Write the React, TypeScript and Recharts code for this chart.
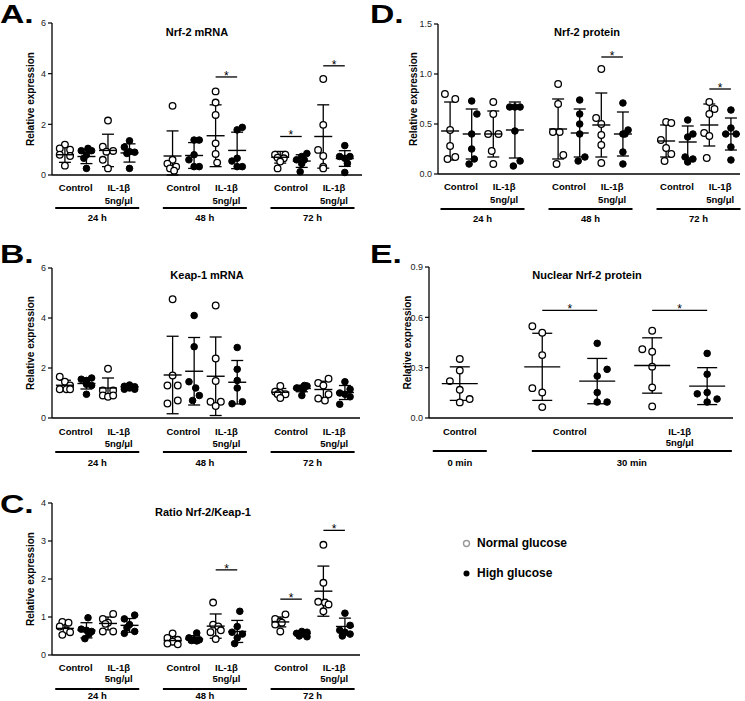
import { ScatterChart, Scatter, XAxis, YAxis, ErrorBar, ReferenceLine } from 'recharts'

const FONT = "'Liberation Sans', Arial, Helvetica, sans-serif"

// [value, horizontal jitter step]
type Pt = [number, number]

// ── shared categories for the time-course panels ───────────────────────────
const TC_NG_X = [1, 3, 6, 8, 11, 13]
const TC_HG_X = [2, 4, 7, 9, 12, 14]
const TC_CAT_X = [1.5, 3.5, 6.5, 8.5, 11.5, 13.5]
const TC_CAT_LABELS = ['Control', 'IL-1β|5ng/μl', 'Control', 'IL-1β|5ng/μl', 'Control', 'IL-1β|5ng/μl']
const TC_SPAN_X = [2.5, 7.5, 12.5]
const TC_SPAN_LABELS = ['24 h', '48 h', '72 h']

// ── A. Nrf-2 mRNA ───────────────────────────────────────────────────────────
const A_NG: Pt[][] = [
  [[1.2, 0], [1.05, -1], [1.0, 1], [0.8, -1], [0.75, 1], [0.37, 0]],
  [[2.15, 0], [1.12, -1], [0.95, 1], [0.92, -0.3], [0.6, -1], [0.26, 0]],
  [[2.73, 0], [0.6, 0], [0.45, -1], [0.33, 0.7], [0.26, -0.5], [0.17, 0.3]],
  [[3.3, 0], [2.86, 0], [2.37, 0], [1.25, 0], [0.83, 0], [0.49, 0.3]],
  [[0.8, -1], [0.8, 1], [0.68, -0.5], [0.66, 0.7], [0.53, 0], [0.26, -0.5]],
  [[3.79, 0], [1.98, 0], [0.99, -1], [0.75, 0], [0.33, 0], [0.26, 0]],
]
const A_HG: Pt[][] = [
  [[1.05, 0.3], [0.96, -1], [0.96, 1], [0.8, 0], [0.66, -0.5], [0.26, 0]],
  [[1.35, 0], [1.1, -1], [0.92, 0], [0.9, 1], [0.85, -0.5], [0.26, 0]],
  [[1.38, 0], [1.38, 1], [0.8, 0], [0.6, -1], [0.33, 0], [0.33, 1]],
  [[1.88, 1], [1.78, 0], [0.66, 0], [0.55, -1], [0.33, 0], [0.33, 1]],
  [[0.85, 1], [0.73, 0], [0.6, -1], [0.6, 0.5], [0.45, 0], [0.13, -0.3]],
  [[1.16, 0], [0.73, -1], [0.73, 1], [0.66, 0], [0.46, 0.5], [0.1, 0]],
]
const A_NG_MEAN = [0.8, 0.97, 0.75, 1.55, 0.7, 1.52]
const A_NG_SD = [0.3, 0.64, 0.99, 1.22, 0.23, 1.25]
const A_HG_MEAN = [0.73, 0.87, 0.77, 0.97, 0.55, 0.65]
const A_HG_SD = [0.28, 0.36, 0.51, 0.72, 0.25, 0.31]
const A_SIG = [[8, 9, 3.87], [11, 12, 1.52], [13, 14, 4.31]]
const A_Y_TICKS = [0, 2, 4, 6]

// ── B. Keap-1 mRNA ──────────────────────────────────────────────────────────
const B_NG: Pt[][] = [
  [[1.65, -1], [1.45, 0], [1.3, 1], [1.15, -1], [1.15, 0.3], [1.15, 1]],
  [[1.97, 0], [1.1, -1], [1.1, 1], [0.9, -1], [0.85, 0], [0.9, 1]],
  [[4.75, 0], [1.7, 0], [1.3, -1], [1.3, 1], [0.7, 1], [0.58, -1]],
  [[4.5, 0], [2.38, 0], [1.48, 0], [0.65, -1], [0.65, 1], [0.48, 0]],
  [[1.28, 0], [1.05, -1], [1.0, 0], [0.95, 1], [0.95, -0.5], [0.8, 0]],
  [[1.57, 1], [1.4, -1], [1.3, 0], [0.95, 1], [0.78, -1], [0.7, 0.3]],
]
const B_HG: Pt[][] = [
  [[1.6, 1], [1.55, -1], [1.5, 0], [1.35, 0], [1.3, 1], [0.95, 0]],
  [[1.32, 0], [1.27, -1], [1.25, 1], [1.2, 0], [1.15, -1], [1.15, 1]],
  [[4.1, 0], [2.85, 0], [1.45, -1], [1.2, 0.3], [0.9, 1], [0.7, -0.3]],
  [[2.82, 0], [1.95, 0], [1.5, 0], [1.2, 0], [0.65, 1], [0.57, -1]],
  [[1.3, 0.5], [1.28, 1], [1.2, -1], [1.2, 0], [1.15, 0.3], [0.9, 0]],
  [[1.45, 0], [1.15, 1], [1.0, -1], [0.95, 0], [0.85, 1], [0.55, -1]],
]
const B_NG_MEAN = [1.31, 1.2, 1.72, 1.67, 1.03, 1.14]
const B_NG_SD = [0.2, 0.4, 1.55, 1.57, 0.15, 0.33]
const B_HG_MEAN = [1.38, 1.24, 1.87, 1.43, 1.18, 1.02]
const B_HG_SD = [0.22, 0.08, 1.35, 0.87, 0.13, 0.28]
const B_SIG: number[][] = []
const B_Y_TICKS = [0, 2, 4, 6]

// ── C. Ratio Nrf-2/Keap-1 ───────────────────────────────────────────────────
const C_NG: Pt[][] = [
  [[0.87, -0.5], [0.85, 0.7], [0.75, -1], [0.65, 0.3], [0.6, 1], [0.53, -0.5]],
  [[1.08, 1], [0.95, -1], [0.85, 0], [0.82, -0.5], [0.62, -1], [0.62, 1]],
  [[0.57, 0], [0.45, -1], [0.4, 1], [0.35, 0], [0.3, -1], [0.28, 1]],
  [[1.38, -0.5], [0.8, -0.5], [0.75, 0.5], [0.65, 1], [0.6, -1], [0.42, 0]],
  [[1.07, 1], [0.95, -1], [0.88, 0], [0.85, 0.3], [0.8, -1], [0.62, 0]],
  [[2.9, 0], [1.9, 0], [1.4, -1], [1.38, 0.3], [1.33, 1], [1.15, 0]],
]
const C_HG: Pt[][] = [
  [[0.98, 0.3], [0.68, -1], [0.65, 0], [0.62, 1], [0.55, 0.5], [0.43, -0.3]],
  [[1.05, 1], [0.95, -1], [0.8, 0], [0.72, -0.5], [0.62, 1], [0.57, -1]],
  [[0.58, 0.5], [0.45, -1], [0.4, 0], [0.4, 1], [0.38, -0.5], [0.37, 0.5]],
  [[1.15, 0.5], [0.75, 0], [0.6, -1], [0.55, 1], [0.45, 0], [0.3, -0.5]],
  [[0.62, 0], [0.6, 1], [0.57, -1], [0.55, 0.5], [0.5, -0.5], [0.48, 1]],
  [[1.1, 0], [0.78, 1], [0.65, -1], [0.6, 0], [0.55, 1], [0.5, -0.5]],
]
const C_NG_MEAN = [0.7, 0.83, 0.38, 0.76, 0.87, 1.68]
const C_NG_SD = [0.13, 0.17, 0.1, 0.32, 0.13, 0.66]
const C_HG_MEAN = [0.65, 0.78, 0.42, 0.62, 0.56, 0.75]
const C_HG_SD = [0.2, 0.18, 0.09, 0.29, 0.05, 0.22]
const C_SIG = [[8, 9, 2.24], [11, 12, 1.47], [13, 14, 3.28]]
const C_Y_TICKS = [0, 1, 2, 3, 4]

// ── D. Nrf-2 protein ────────────────────────────────────────────────────────
const D_NG: Pt[][] = [
  [[0.8, -1], [0.75, 1], [0.44, 0], [0.28, 0], [0.17, 1], [0.15, -0.5]],
  [[0.72, 0], [0.6, 0], [0.4, -1], [0.4, 1], [0.23, -0.3], [0.1, 0]],
  [[0.9, 0], [0.7, 0], [0.42, -1], [0.42, 0.3], [0.19, 1], [0.1, -0.3]],
  [[1.05, 0], [0.56, -1], [0.5, 0], [0.39, 0], [0.29, 0], [0.11, 0]],
  [[0.52, 0], [0.51, 1], [0.34, -1], [0.26, 0], [0.2, 1], [0.13, -0.3]],
  [[0.72, 0], [0.65, 1], [0.6, 0], [0.41, -1], [0.38, 0], [0.16, -0.5]],
]
const D_HG: Pt[][] = [
  [[0.73, 0], [0.6, 1], [0.4, 0], [0.25, 0], [0.15, 0.5], [0.1, -0.5]],
  [[0.67, -1], [0.67, 0], [0.67, 1], [0.43, 0], [0.13, 1], [0.08, -0.3]],
  [[0.74, 0], [0.6, 0], [0.5, 0], [0.4, 0], [0.17, 1], [0.13, -0.3]],
  [[0.71, 0], [0.44, 1], [0.4, 0], [0.4, 0.4], [0.22, 0], [0.1, 0]],
  [[0.54, 0], [0.4, 1], [0.37, 0], [0.17, -0.5], [0.15, 1], [0.12, 0]],
  [[0.64, 0], [0.46, 0], [0.4, -1], [0.4, 1], [0.27, 0], [0.14, 0]],
]
const D_NG_MEAN = [0.43, 0.4, 0.45, 0.49, 0.33, 0.49]
const D_NG_SD = [0.29, 0.23, 0.3, 0.32, 0.16, 0.21]
const D_HG_MEAN = [0.4, 0.44, 0.41, 0.4, 0.32, 0.4]
const D_HG_SD = [0.25, 0.28, 0.24, 0.22, 0.16, 0.16]
const D_SIG = [[8, 9, 1.17], [13, 14, 0.85]]
const D_Y_TICKS = [0, 0.5, 1.0, 1.5]

// ── E. Nuclear Nrf-2 protein ────────────────────────────────────────────────
const E_NG_X = [1, 2.5, 4.5]
const E_HG_X = [3.5, 5.5]
const E_CAT_X = [1, 3, 5]
const E_CAT_LABELS = ['Control', 'Control', 'IL-1β|5ng/μl']
const E_SPAN_X = [1, 4.13]
const E_SPAN_LABELS = ['0 min', '30 min']
const E_NG: Pt[][] = [
  [[0.352, 0], [0.283, 0], [0.22, -1], [0.168, 0], [0.113, 1], [0.093, 0]],
  [[0.547, -1], [0.508, 0], [0.375, 0], [0.178, -1], [0.152, 0], [0.065, 0]],
  [[0.52, 0], [0.41, -1], [0.395, 0], [0.306, 0], [0.182, 0], [0.069, 0]],
]
const E_HG: Pt[][] = [
  [[0.445, 0], [0.29, 1], [0.25, 0], [0.152, 0], [0.095, 0], [0.095, 1]],
  [[0.385, 0], [0.261, 0], [0.152, 0], [0.144, -1], [0.113, 1], [0.095, 0]],
]
const E_NG_MEAN = [0.205, 0.305, 0.313]
const E_NG_SD = [0.1, 0.2, 0.165]
const E_HG_MEAN = [0.22, 0.19]
const E_HG_SD = [0.135, 0.11]
const E_SIG = [[2.5, 3.5, 0.642], [4.5, 5.5, 0.642]]
const E_Y_TICKS = [0, 0.3, 0.6, 0.9]

// ── Panel ───────────────────────────────────────────────────────────────────
interface PanelProps {
  letter: string
  title: string
  ngX: number[]; hgX: number[]
  ng: Pt[][]; hg: Pt[][]
  ngMean: number[]; ngSd: number[]; hgMean: number[]; hgSd: number[]
  sig: number[][]
  yTicks: number[]
  catX: number[]; catLabels: string[]
  spanX: number[]; spanLabels: string[]
  // layout
  left: number; top: number; width: number; height: number
  mLeft: number; mRight: number; plotH: number
  xDomain: [number, number]
  jit: number; meanHalf: number; capW: number; spanHalf: number[]
  decimals: number
  letterTop: number
  titleX: number; titleY: number
  labelOffset: number
  dy: { l1: number; l2: number; under: number; time: number }
}

const OpenDot = (p: any) => (
  <circle cx={p.cx} cy={p.cy} r={3.3} fill="#fff" stroke="#000" strokeWidth={1.3} />
)
const FilledDot = (p: any) => (
  <circle cx={p.cx} cy={p.cy} r={3.3} fill="#000" stroke="#000" strokeWidth={1} />
)

// significance asterisk, centred over the bracket
const Star = (p: any) => {
  const vb = p.viewBox || {}
  return (
    <text
      x={vb.x + (vb.width || 0) / 2} y={vb.y + 3}
      textAnchor="middle" fill="#000" fontFamily={FONT} fontSize={12}
    >
      *
    </text>
  )
}

function Panel(props: PanelProps) {
  const {
    ngX, hgX, ng, hg, ngMean, ngSd, hgMean, hgSd, jit, meanHalf, dy,
  } = props

  const ngPts = ng.flatMap((g, i) => g.map(([y, d]) => ({ x: ngX[i] + d * jit, y })))
  const hgPts = hg.flatMap((g, i) => g.map(([y, d]) => ({ x: hgX[i] + d * jit, y })))
  const means = [
    ...ngMean.map((m, i) => ({ x: ngX[i], y: m, err: [Math.min(ngSd[i], m), ngSd[i]] })),
    ...hgMean.map((m, i) => ({ x: hgX[i], y: m, err: [Math.min(hgSd[i], m), hgSd[i]] })),
  ]

  const MeanLine = (p: any) => (
    <line x1={p.cx - meanHalf} x2={p.cx + meanHalf} y1={p.cy} y2={p.cy} stroke="#000" strokeWidth={1.4} />
  )

  const ticks = Array.from(new Set([...props.catX, ...props.spanX])).sort((a, b) => a - b)

  const XTick = (p: any) => {
    const v = p.payload.value
    const ci = props.catX.indexOf(v)
    const si = props.spanX.indexOf(v)
    const lines = ci >= 0 ? props.catLabels[ci].split('|') : []
    const txt = { fontFamily: FONT, fontSize: 9.5, fontWeight: 700, fill: '#000', textAnchor: 'middle' as const }
    return (
      <g>
        {lines.map((l, k) => (
          <text key={k} x={p.x} y={p.y + (k === 0 ? dy.l1 : dy.l2)} {...txt}>{l}</text>
        ))}
        {si >= 0 && (
          <>
            <line
              x1={p.x - props.spanHalf[si]} x2={p.x + props.spanHalf[si]}
              y1={p.y + dy.under} y2={p.y + dy.under}
              stroke="#000" strokeWidth={2}
            />
            <text x={p.x} y={p.y + dy.time} {...txt}>{props.spanLabels[si]}</text>
          </>
        )}
      </g>
    )
  }

  return (
    <div style={{ position: 'absolute', left: props.left, top: props.top, width: props.width, height: props.height }}>
      <div style={{
        position: 'absolute', left: 0, top: props.letterTop - props.top, fontFamily: FONT, fontSize: 25, fontWeight: 700,
        lineHeight: '25px', transform: 'scaleX(1.35)', transformOrigin: 'left',
      }}>
        {props.letter}
      </div>
      <div style={{
        position: 'absolute', left: props.titleX - props.left, top: props.titleY - props.top - 7,
        transform: 'translateX(-50%)', whiteSpace: 'nowrap',
        fontFamily: FONT, fontSize: 11, fontWeight: 700, lineHeight: '14px',
      }}>
        {props.title}
      </div>
      <ScatterChart
        width={props.width}
        height={props.height}
        margin={{ top: 23, right: props.mRight, left: props.mLeft, bottom: props.height - 23 - props.plotH - 52 }}
      >
        <XAxis
          type="number" dataKey="x" domain={props.xDomain} allowDataOverflow
          ticks={ticks} interval={0} tick={XTick} tickLine={false} tickSize={0} tickMargin={0}
          axisLine={{ stroke: '#000', strokeWidth: 1.3 }} height={52}
        />
        <YAxis
          type="number" dataKey="y" domain={[props.yTicks[0], props.yTicks[props.yTicks.length - 1]]}
          ticks={props.yTicks} interval={0} width={30}
          tickFormatter={(v: number) => v.toFixed(props.decimals)}
          tick={{ fontFamily: FONT, fontSize: 9, fill: '#222' }}
          tickSize={4} tickMargin={2}
          tickLine={{ stroke: '#000', strokeWidth: 1.2 }}
          axisLine={{ stroke: '#000', strokeWidth: 1.3 }}
          label={{
            value: 'Relative expression', angle: -90, position: 'insideLeft', offset: props.labelOffset,
            style: { textAnchor: 'middle', fontFamily: FONT, fontSize: 10, fontWeight: 700, fill: '#000' },
          }}
        />
        <Scatter data={ngPts} shape={OpenDot} isAnimationActive={false} />
        <Scatter data={hgPts} shape={FilledDot} isAnimationActive={false} />
        <Scatter data={means} shape={MeanLine} isAnimationActive={false}>
          <ErrorBar dataKey="err" direction="y" width={props.capW} stroke="#000" strokeWidth={1.3} />
        </Scatter>
        {props.sig.map(([x1, x2, y], i) => (
          <ReferenceLine
            key={i}
            segment={[{ x: x1, y }, { x: x2, y }]}
            stroke="#000" strokeWidth={1.3}
            label={<Star />}
          />
        ))}
      </ScatterChart>
    </div>
  )
}

const TC = {
  ngX: TC_NG_X, hgX: TC_HG_X, catX: TC_CAT_X, catLabels: TC_CAT_LABELS,
  spanX: TC_SPAN_X, spanLabels: TC_SPAN_LABELS,
  jit: 0.24, meanHalf: 9, capW: 6, spanHalf: [42, 42, 42],
}

export default function App() {
  return (
    <div style={{ position: 'absolute', left: 0, top: 0, width: 745, height: 701, overflow: 'hidden', background: '#fff' }}>
      <Panel
        {...TC} letter="A." title="Nrf-2 mRNA"
        ng={A_NG} hg={A_HG} ngMean={A_NG_MEAN} ngSd={A_NG_SD} hgMean={A_HG_MEAN} hgSd={A_HG_SD}
        sig={A_SIG} yTicks={A_Y_TICKS} decimals={0}
        left={0} top={0} width={370} height={227} mLeft={22} mRight={8} plotH={152}
        xDomain={[0.4, 14.8]} letterTop={2} titleX={197} titleY={32} labelOffset={8}
        dy={{ l1: 16, l2: 29, under: 33, time: 46 }}
      />
      <Panel
        {...TC} letter="B." title="Keap-1 mRNA"
        ng={B_NG} hg={B_HG} ngMean={B_NG_MEAN} ngSd={B_NG_SD} hgMean={B_HG_MEAN} hgSd={B_HG_SD}
        sig={B_SIG} yTicks={B_Y_TICKS} decimals={0}
        left={0} top={245} width={370} height={225} mLeft={22} mRight={10} plotH={150}
        xDomain={[0.4, 14.7]} letterTop={242} titleX={207} titleY={275} labelOffset={8}
        dy={{ l1: 17, l2: 29, under: 34, time: 48 }}
      />
      <Panel
        {...TC} letter="C." title="Ratio Nrf-2/Keap-1"
        ng={C_NG} hg={C_HG} ngMean={C_NG_MEAN} ngSd={C_NG_SD} hgMean={C_HG_MEAN} hgSd={C_HG_SD}
        sig={C_SIG} yTicks={C_Y_TICKS} decimals={0}
        left={0} top={480} width={370} height={227} mLeft={22} mRight={10} plotH={152}
        xDomain={[0.4, 14.7]} letterTop={492} titleX={203} titleY={512} labelOffset={8}
        dy={{ l1: 16, l2: 27, under: 34, time: 44 }}
      />
      <Panel
        {...TC} letter="D." title="Nrf-2 protein"
        ng={D_NG} hg={D_HG} ngMean={D_NG_MEAN} ngSd={D_NG_SD} hgMean={D_HG_MEAN} hgSd={D_HG_SD}
        sig={D_SIG} yTicks={D_Y_TICKS} decimals={1}
        left={370} top={1} width={375} height={225} mLeft={38} mRight={5} plotH={150}
        xDomain={[0.44, 14.42]} letterTop={2} titleX={587} titleY={32} labelOffset={5}
        dy={{ l1: 16, l2: 29, under: 35, time: 48 }}
      />
      <Panel
        letter="E." title="Nuclear Nrf-2 protein"
        ngX={E_NG_X} hgX={E_HG_X} catX={E_CAT_X} catLabels={E_CAT_LABELS}
        spanX={E_SPAN_X} spanLabels={E_SPAN_LABELS}
        jit={0.18} meanHalf={18} capW={10} spanHalf={[27, 100]}
        ng={E_NG} hg={E_HG} ngMean={E_NG_MEAN} ngSd={E_NG_SD} hgMean={E_HG_MEAN} hgSd={E_HG_SD}
        sig={E_SIG} yTicks={E_Y_TICKS} decimals={1}
        left={370} top={244} width={375} height={226} mLeft={29} mRight={12} plotH={151}
        xDomain={[0.44, 5.97]} letterTop={242} titleX={587} titleY={275} labelOffset={8}
        dy={{ l1: 17, l2: 28, under: 33, time: 48 }}
      />

      {/* legend */}
      <div style={{ position: 'absolute', left: 462, top: 536, fontFamily: FONT, fontSize: 12, fontWeight: 700, lineHeight: '14px' }}>
        <div style={{ display: 'flex', alignItems: 'center', gap: 6 }}>
          <svg width={9} height={9}><circle cx={4.5} cy={4.5} r={3} fill="#fff" stroke="#999" strokeWidth={1.4} /></svg>
          <span>Normal glucose</span>
        </div>
        <div style={{ display: 'flex', alignItems: 'center', gap: 6, marginTop: 16 }}>
          <svg width={9} height={9}><circle cx={4.5} cy={4.5} r={3} fill="#000" /></svg>
          <span>High glucose</span>
        </div>
      </div>
    </div>
  )
}
